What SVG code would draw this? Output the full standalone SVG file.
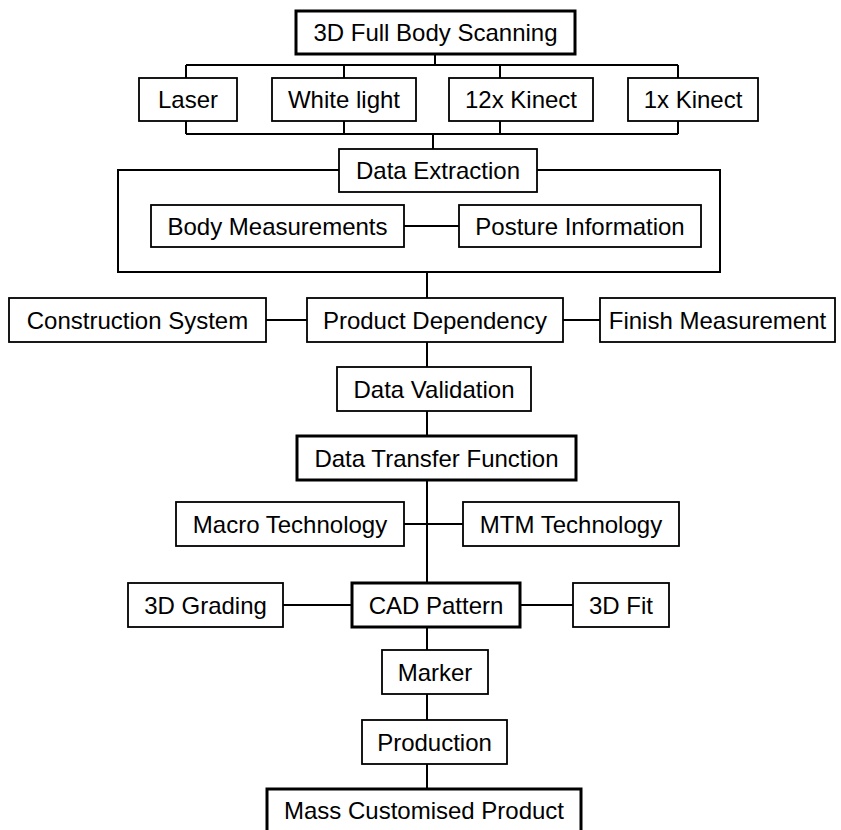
<svg xmlns="http://www.w3.org/2000/svg" width="841" height="830" viewBox="0 0 841 830">
<style>
.b{fill:#fff;stroke:#000;stroke-width:1.8}
.t{fill:#fff;stroke:#000;stroke-width:3}
.c{fill:none;stroke:#000;stroke-width:2}
text{font-family:"Liberation Sans",Arial,sans-serif;font-size:24px;fill:#000;text-anchor:middle;dominant-baseline:central}
</style>
<rect width="841" height="830" fill="#fff"/>
<g id="connectors">
<path class="c" d="M435,54V65M186,65H678M186,65V78M344,65V78M500,65V78M678,65V78"/>
<path class="c" d="M186,121V134M344,121V134M500,121V134M678,121V134M186,134H678M433,134V149"/>
<path class="c" d="M339,170H118V272H720V170H537M404,226H459"/>
<path class="c" d="M427,272V298M266,320H307M563,320H600M427,342V367M427,411V436"/>
<path class="c" d="M427,480V583M404,524H463"/>
<path class="c" d="M283,605H352M520,605H573M427,627V650M427,694V720M427,764V789"/>
</g>
<g id="n_scan"><rect class="t" x="296" y="11" width="279" height="43"/><text x="435.5" y="32.5">3D Full Body Scanning</text></g>
<g id="n_laser"><rect class="b" x="139" y="78" width="98" height="43"/><text x="188" y="99.5">Laser</text></g>
<g id="n_white"><rect class="b" x="272" y="78" width="144" height="43"/><text x="344" y="99.5">White light</text></g>
<g id="n_12k"><rect class="b" x="449" y="78" width="144" height="43"/><text x="521" y="99.5">12x Kinect</text></g>
<g id="n_1k"><rect class="b" x="628" y="78" width="130" height="43"/><text x="693" y="99.5">1x Kinect</text></g>
<g id="n_extract"><rect class="b" x="339" y="149" width="198" height="43"/><text x="438" y="170.5">Data Extraction</text></g>
<g id="n_body"><rect class="b" x="151" y="205" width="253" height="42"/><text x="277.5" y="226">Body Measurements</text></g>
<g id="n_posture"><rect class="b" x="459" y="205" width="242" height="42"/><text x="580" y="226">Posture Information</text></g>
<g id="n_constr"><rect class="b" x="9" y="298" width="257" height="44"/><text x="137.5" y="320">Construction System</text></g>
<g id="n_product"><rect class="b" x="307" y="298" width="256" height="44"/><text x="435" y="320">Product Dependency</text></g>
<g id="n_finish"><rect class="b" x="600" y="298" width="235" height="44"/><text x="717.5" y="320">Finish Measurement</text></g>
<g id="n_valid"><rect class="b" x="337" y="367" width="194" height="44"/><text x="434" y="389">Data Validation</text></g>
<g id="n_transfer"><rect class="t" x="297" y="436" width="279" height="44"/><text x="436.5" y="458">Data Transfer Function</text></g>
<g id="n_macro"><rect class="b" x="176" y="502" width="228" height="44"/><text x="290" y="524">Macro Technology</text></g>
<g id="n_mtm"><rect class="b" x="463" y="502" width="216" height="44"/><text x="571" y="524">MTM Technology</text></g>
<g id="n_grading"><rect class="b" x="128" y="583" width="155" height="44"/><text x="205.5" y="605">3D Grading</text></g>
<g id="n_cad"><rect class="t" x="352" y="583" width="168" height="44"/><text x="436" y="605">CAD Pattern</text></g>
<g id="n_fit"><rect class="b" x="573" y="583" width="96" height="44"/><text x="621" y="605">3D Fit</text></g>
<g id="n_marker"><rect class="b" x="382" y="650" width="106" height="44"/><text x="435" y="672">Marker</text></g>
<g id="n_production"><rect class="b" x="362" y="720" width="145" height="44"/><text x="434.5" y="742">Production</text></g>
<g id="n_mass"><rect class="t" x="267" y="789" width="314" height="46"/><text x="424" y="810">Mass Customised Product</text></g>
</svg>
